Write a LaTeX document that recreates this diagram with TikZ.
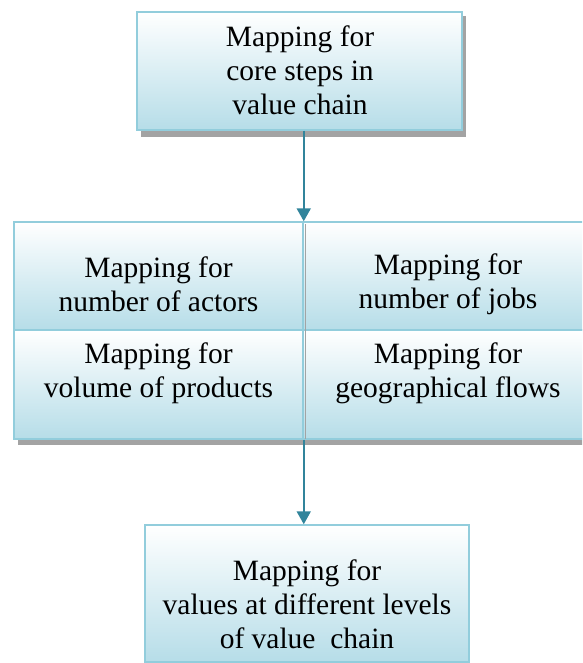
\documentclass[tikz,border=0pt]{standalone}
\usepackage{fontspec}
\setmainfont{Liberation Serif}
\usetikzlibrary{arrows.meta}
\definecolor{boxline}{HTML}{92CDDC}
\definecolor{boxfill}{HTML}{B6DDE8}
\definecolor{arrowc}{HTML}{31849B}
\definecolor{shadowc}{HTML}{A3A3A3}
\tikzset{
  mbox/.style={rectangle, draw=boxline, line width=1.5pt, top color=white, bottom color=boxfill, inner sep=0pt},
  mtext/.style={font=\fontsize{29.5}{34}\selectfont, align=center, inner sep=0pt},
  conn/.style={draw=arrowc, line width=2pt, -{Triangle[length=13pt,width=14pt]}},
  shadowstrip/.style={fill=shadowc}
}
\begin{document}
\begin{tikzpicture}[x=1pt,y=-1pt]
\useasboundingbox (0,0) rectangle (582,663);
\clip (0,0) rectangle (582,663);
% shadows
\fill[shadowstrip] (141,131) rectangle (466,137);
\fill[shadowstrip] (462,16) rectangle (466,137);
\fill[shadowstrip] (18,440) rectangle (600,445);
% top box
\node[mbox, minimum width=325pt, minimum height=118pt] (top) at (299.5,71) {};
\node[mtext] (ttop) at (300,70) {Mapping for\\core steps in\\value chain};
% grid
\node[mbox, minimum width=289pt, minimum height=108pt] (c1) at (158.5,276) {};
\node[mbox, minimum width=290pt, minimum height=108pt] (c2) at (448,276) {};
\node[mbox, minimum width=289pt, minimum height=109pt] (c3) at (158.5,384.5) {};
\node[mbox, minimum width=290pt, minimum height=109pt] (c4) at (448,384.5) {};
\fill[shadowstrip] (304.5,224) rectangle (306,439);
\node[mtext] (t1) at (158.5,284) {Mapping for\\number of actors};
\node[mtext] (t2) at (448,284) {Mapping for\\number of jobs};
\node[mtext] (t3) at (158.5,373) {Mapping for\\volume of products};
\node[mtext] (t4) at (448,373) {Mapping for\\geographical flows};
% bottom box
\node[mbox, minimum width=324pt, minimum height=137pt] (bot) at (307,593.5) {};
\node[mtext] (tbot) at (307,604) {Mapping for\\values at different levels\\of value~ chain};
% connectors
\draw[conn] (top.south -| c1.north east) -- (c1.north east);
\draw[conn] (c3.south east) -- (c3.south east |- bot.north);
\end{tikzpicture}
\end{document}
